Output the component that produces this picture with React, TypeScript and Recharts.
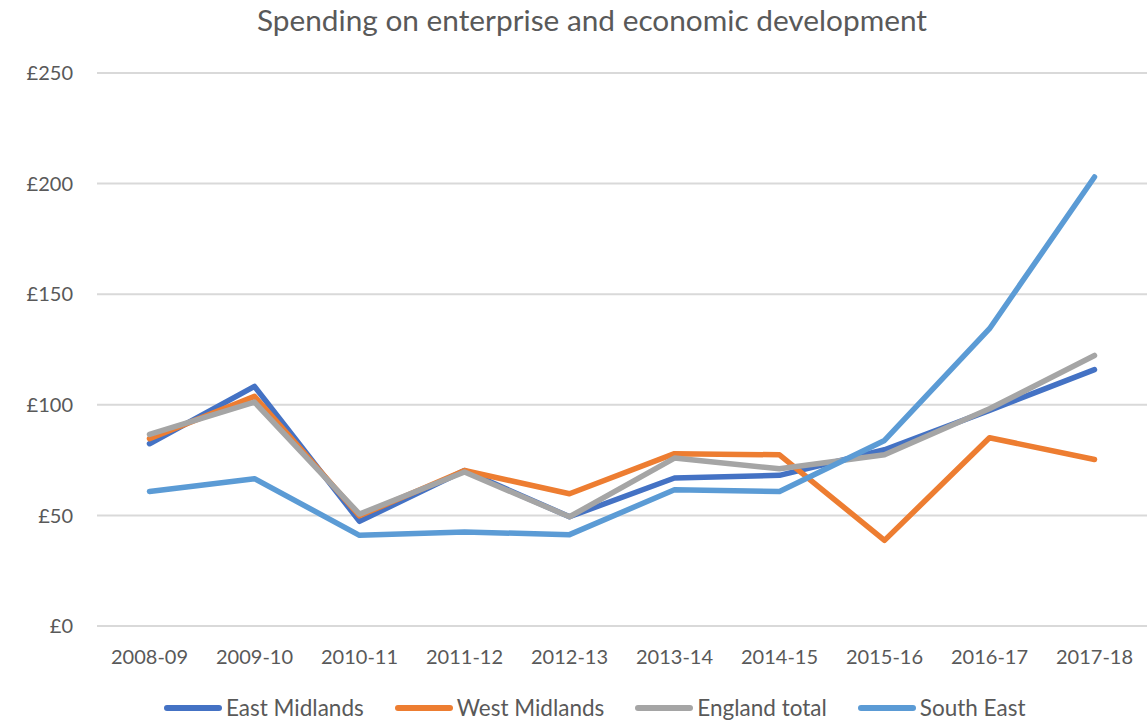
import { CartesianGrid, Line, LineChart, XAxis, YAxis } from 'recharts';

const years = ['2008-09', '2009-10', '2010-11', '2011-12', '2012-13', '2013-14', '2014-15', '2015-16', '2016-17', '2017-18'];
const eastMidlands = [82.4, 108.3, 47.3, 70.3, 49.4, 66.9, 68.1, 79.7, 97.5, 115.9];
const westMidlands = [84.7, 103.8, 49.8, 70.3, 59.8, 77.9, 77.4, 38.7, 85.1, 75.3];
const englandTotal = [86.6, 101.2, 50.6, 69.6, 49.4, 75.9, 71.1, 77.4, 98.2, 122.3];
const southEast = [60.8, 66.6, 41.0, 42.5, 41.3, 61.6, 60.8, 83.9, 134.4, 203.0];
const yTicks = [0, 50, 100, 150, 200, 250];

const series = [
  { key: 'eastMidlands', name: 'East Midlands', color: '#4472C4' },
  { key: 'westMidlands', name: 'West Midlands', color: '#ED7D31' },
  { key: 'englandTotal', name: 'England total', color: '#A5A5A5' },
  { key: 'southEast', name: 'South East', color: '#5B9BD5' },
];

const data = years.map((year, i) => ({
  year,
  eastMidlands: eastMidlands[i],
  westMidlands: westMidlands[i],
  englandTotal: englandTotal[i],
  southEast: southEast[i],
}));

const font = 'Lato, "Open Sans", sans-serif';
const textColor = '#595959';

export default function App() {
  return (
    <div style={{ position: 'absolute', left: 0, top: 0, width: 1147, height: 721, background: '#fff' }}>
      <div
        style={{
          position: 'absolute',
          top: 2,
          left: 0,
          width: 1184,
          textAlign: 'center',
          fontFamily: font,
          fontSize: 29.8,
          color: textColor,
        }}
      >
        Spending on enterprise and economic development
      </div>
      <LineChart width={1147} height={721} data={data} margin={{ top: 73, right: 0, bottom: 55, left: 0 }}>
        <CartesianGrid vertical={false} stroke="#D9D9D9" strokeWidth={2} />
        <XAxis
          dataKey="year"
          height={40}
          axisLine={false}
          tickLine={false}
          tickMargin={18}
          padding={{ left: 52.5, right: 52.5 }}
          interval={0}
          tick={{ fill: textColor, fontSize: 20, fontFamily: font }}
        />
        <YAxis
          width={97}
          domain={[0, 250]}
          ticks={yTicks}
          axisLine={false}
          tickLine={false}
          tickMargin={18}
          tickFormatter={(v) => `£${v}`}
          tick={{ fill: textColor, fontSize: 20, fontFamily: font }}
        />
        {series.map((s) => (
          <Line
            key={s.key}
            dataKey={s.key}
            name={s.name}
            stroke={s.color}
            strokeWidth={5.5}
            strokeLinecap="round"
            strokeLinejoin="round"
            dot={false}
            activeDot={false}
            isAnimationActive={false}
          />
        ))}
      </LineChart>
      <div
        style={{
          position: 'absolute',
          left: 162,
          top: 694,
          display: 'flex',
          alignItems: 'center',
          fontFamily: font,
          fontSize: 22.5,
          color: textColor,
          whiteSpace: 'nowrap',
        }}
      >
        {series.map((s) => (
          <div key={s.key} style={{ display: 'flex', alignItems: 'center', marginRight: 29 }}>
            <svg width={62} height={10}>
              <line x1={5} y1={5} x2={57} y2={5} stroke={s.color} strokeWidth={6} strokeLinecap="round" />
            </svg>
            <span style={{ marginLeft: 2 }}>{s.name}</span>
          </div>
        ))}
      </div>
    </div>
  );
}
